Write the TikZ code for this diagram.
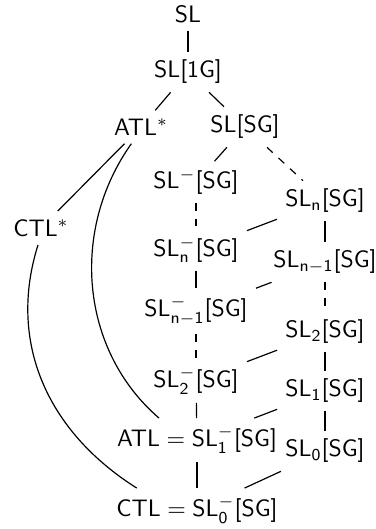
\documentclass[tikz,border=0pt]{standalone}
\usepackage{amsmath}
\begin{document}
\begin{tikzpicture}[x=0.42pt,y=-0.42pt,
  every node/.style={font=\sffamily},
  link/.style={line width=0.5pt},
  dlink/.style={line width=0.5pt,dash pattern=on 3.3pt off 3.3pt}]
\useasboundingbox (0,0) rectangle (376,529);
\node (SL)    at (188,14)  {SL};
\node (SL1G)  at (188,72)  {SL[1G]};
\node (ATLs)  at (141,127) {ATL$^*$};
\node (SLSG)  at (245,127) {SL[SG]};
\node (CTLs)  at (41,228)  {CTL$^*$};
\node (SLm)   at (196,182) {SL$^{-}$[SG]};
\node (SLn)   at (325,201) {SL$_{\mathsf{n}}$[SG]};
\node (SLmn)  at (196,250) {SL$^{-}_{\mathsf{n}}$[SG]};
\node (SLn1)  at (325,262) {SL$_{\mathsf{n}-\mathsf{1}}$[SG]};
\node (SLmn1) at (196,311) {SL$^{-}_{\mathsf{n}-\mathsf{1}}$[SG]};
\node (SL2)   at (325,332) {SL$_{\mathsf{2}}$[SG]};
\node (SLm2)  at (196,381) {SL$^{-}_{\mathsf{2}}$[SG]};
\node (SL1)   at (325,391) {SL$_{\mathsf{1}}$[SG]};
\node (ATL)   at (197,440) {ATL${}={}$SL$^{-}_{\mathsf{1}}$[SG]};
\node (SL0)   at (325,451) {SL$_{\mathsf{0}}$[SG]};
\node (CTL)   at (197,510) {CTL${}={}$SL$^{-}_{\mathsf{0}}$[SG]};
% top
\draw[link] (SL) -- (SL1G);
\draw[link] (SL1G) -- (ATLs);
\draw[link] (SL1G) -- (SLSG);
\draw[link] (SLSG) -- (SLm);
\draw[dlink] (SLSG) -- (SLn);
% left column
\draw[dlink] (SLm) -- (SLmn);
\draw[link] (SLmn) -- (SLmn1);
\draw[dlink] (SLmn1) -- (SLm2);
\draw[link] (SLm2) -- (ATL);
\draw[link] (ATL) -- (CTL);
% right column
\draw[link] (SLn) -- (SLn1);
\draw[dlink] (SLn1) -- (SL2);
\draw[link] (SL2) -- (SL1);
\draw[link] (SL1) -- (SL0);
% cross links
\draw[link] (SLn) -- (SLmn);
\draw[link] (SLn1) -- (SLmn1);
\draw[link] (SL2) -- (SLm2);
\draw[link] (SL1) -- (ATL);
\draw[link] (SL0) -- (CTL);
% left side
\draw[link] (ATLs) -- (CTLs);
\draw[link] (ATLs.240) .. controls (70,230) and (80,350) .. (ATL.150);
\draw[link] (CTLs.260) .. controls (8,340) and (45,430) .. (CTL.160);
\end{tikzpicture}
\end{document}
